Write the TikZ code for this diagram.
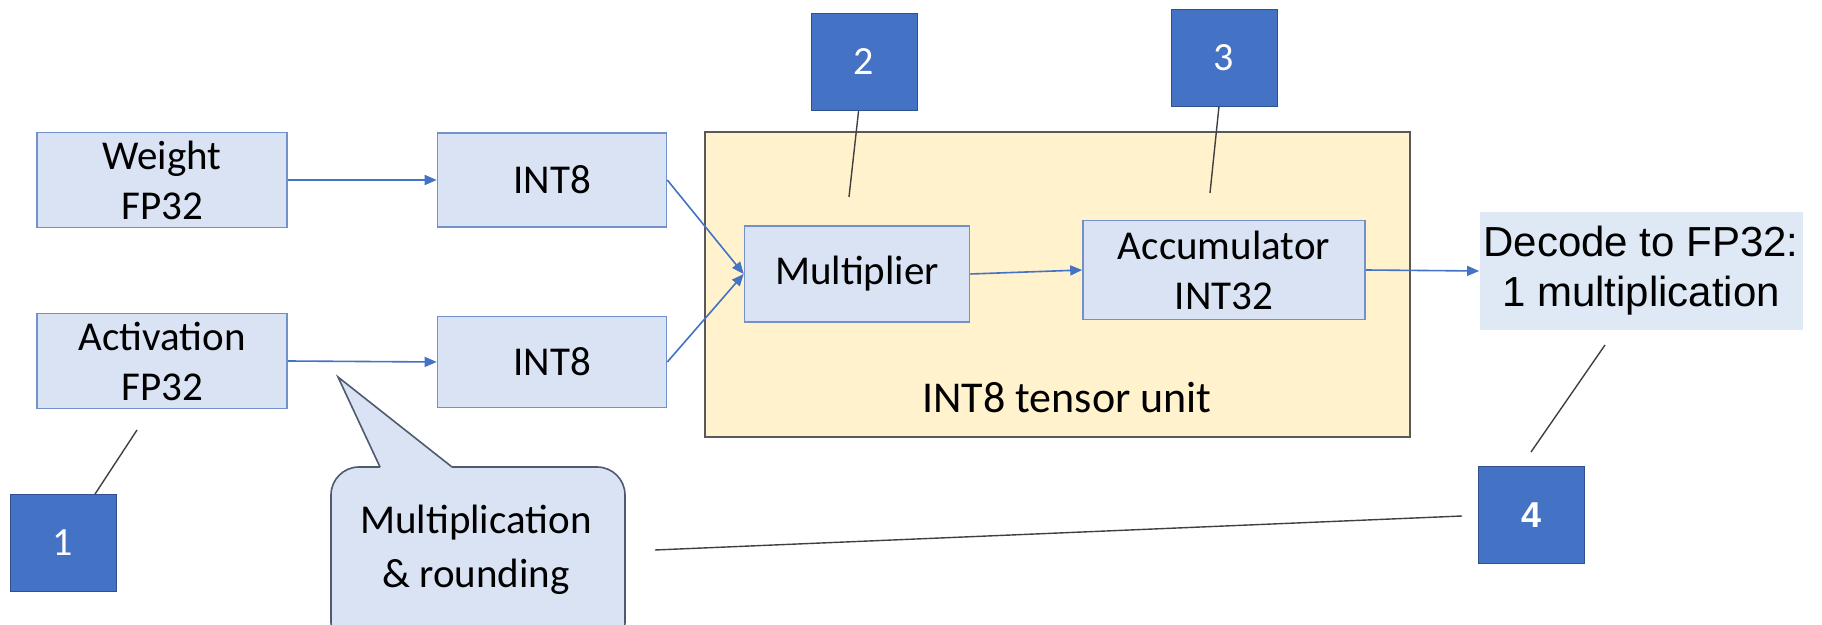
\documentclass[tikz,border=0pt]{standalone}
\usepackage{fontspec}
\setmainfont{Carlito}
\newfontfamily\arialf{Liberation Sans}
\usetikzlibrary{arrows.meta}
\definecolor{boxfill}{RGB}{218,227,243}
\definecolor{boxline}{RGB}{114,145,200}
\definecolor{unitfill}{RGB}{255,242,204}
\definecolor{unitline}{RGB}{89,89,89}
\definecolor{numfill}{RGB}{68,114,196}
\definecolor{numline}{RGB}{47,82,143}
\definecolor{arrowc}{RGB}{68,114,196}
\definecolor{leaderc}{RGB}{64,64,64}
\definecolor{decfill}{RGB}{222,233,245}
\definecolor{bubline}{RGB}{80,90,110}
\begin{document}
\begin{tikzpicture}[x=0.5pt,y=-0.5pt,
  blockbox/.style={draw=boxline, fill=boxfill, line width=0.8pt, align=center, inner sep=0pt, font=\fontsize{20.5}{25}\selectfont},
  numbox/.style={draw=numline, fill=numfill, line width=0.5pt, text=white, inner sep=0pt, font=\fontsize{20}{24}\selectfont, minimum width=53pt, minimum height=48.5pt},
  flow/.style={draw=arrowc, line width=0.8pt, -{Triangle[length=6pt,width=5pt]}},
  leader/.style={draw=leaderc, line width=0.7pt},
  bubblefill/.style={fill=boxfill},
  bubbleline/.style={draw=bubline, line width=0.8pt},
]
\useasboundingbox (0,0) rectangle (1822,625);
\fill[white] (0,0) rectangle (1822,625);

% tensor unit
\node[draw=unitline, fill=unitfill, line width=0.9pt, minimum width=352.5pt, minimum height=152.5pt, inner sep=0pt] (unit) at (1057.5,284.5) {};
\node[font=\fontsize{22}{26}\selectfont] (unitlbl) at (1067,398) {INT8 tensor unit};

% blocks
\node[blockbox, minimum width=125pt, minimum height=47.5pt] (w) at (162,180) {Weight\\FP32};
\node[blockbox, minimum width=125pt, minimum height=47.5pt] (a) at (162,361) {Activation\\FP32};
\node[blockbox, minimum width=114.5pt, minimum height=47pt] (i1) at (552,180) {INT8};
\node[blockbox, minimum width=114.5pt, minimum height=45.5pt] (i2) at (552,362) {INT8};
\node[blockbox, minimum width=112.5pt, minimum height=48pt] (mul) at (857,274) {Multiplier};
\node[blockbox, minimum width=141pt, minimum height=49.5pt] (acc) at (1224,270) {Accumulator\\INT32};
\node[fill=decfill, minimum width=161.5pt, minimum height=59pt, align=center, inner sep=0pt, font=\arialf\fontsize{21}{25}\selectfont] (dec) at (1641,271) {Decode to FP32:\\1 multiplication};

% number boxes
\node[numbox] (n1) at (63,543) {1};
\node[numbox] (n2) at (864,62) {2};
\node[numbox] (n3) at (1224,58) {3};
\node[numbox, font=\arialf\bfseries\fontsize{18}{22}\selectfont] (n4) at (1531,515) {4};

% flow arrows
\draw[flow] (w.east) -- (i1.west);
\draw[flow] (a.east) -- (i2.west);
\draw[flow] (i1.east) -- (mul.west);
\draw[flow] (i2.east) -- (mul.west);
\draw[flow] (mul.east) -- (acc.west);
\draw[flow] (acc.east) -- (dec.west);

% speech bubble
\fill[bubblefill, rounded corners=14pt] (331,467) rectangle (625,650);
\fill[bubblefill] (380,468) -- (338,377) -- (452,468) -- cycle;
\draw[bubbleline, rounded corners=14pt] (452,467) -- (625,467) -- (625,650) -- (331,650) -- (331,467) -- (380,467);
\draw[bubbleline] (380,467) -- (338,377) -- (452,467);
\node[align=center, font=\fontsize{20.5}{27}\selectfont] (bub) at (476,550) {Multiplication\\\& rounding};

% leader lines
\coordinate (l1) at (137,430);
\coordinate (l2) at (849,197);
\coordinate (l3) at (1210,193);
\coordinate (l4a) at (1531,452);
\coordinate (l4b) at (1605,345);
\coordinate (lba) at (655,550);
\coordinate (lbb) at (1462,516);
\draw[leader] (n1) -- (l1);
\draw[leader] (n2) -- (l2);
\draw[leader] (n3) -- (l3);
\draw[leader] (l4a) -- (l4b);
\draw[leader] (lba) -- (lbb);
\end{tikzpicture}
\end{document}
